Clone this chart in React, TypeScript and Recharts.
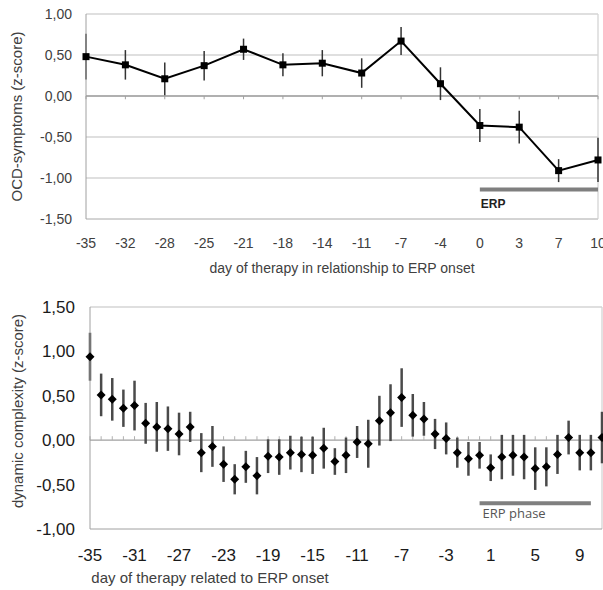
import React from 'react';
import { LineChart, Line, XAxis, YAxis, CartesianGrid, ReferenceLine, ErrorBar, Label } from 'recharts';

// upper panel: OCD symptoms
const symptomDays = [-35, -32, -28, -25, -21, -18, -14, -11, -7, -4, 0, 3, 7, 10];
const symptomMean = [0.48, 0.38, 0.21, 0.37, 0.57, 0.38, 0.4, 0.28, 0.67, 0.15, -0.36, -0.38, -0.91, -0.78];
const symptomErr = [0.28, 0.18, 0.2, 0.18, 0.13, 0.14, 0.16, 0.18, 0.17, 0.2, 0.2, 0.2, 0.14, 0.27];
const symptomTicks = [-1.5, -1, -0.5, 0, 0.5, 1];

// lower panel: dynamic complexity
const complexityDays = [
  -35, -34, -33, -32, -31, -30, -29, -28, -27, -26, -25, -24, -23, -22, -21, -20, -19, -18, -17, -16, -15, -14,
  -13, -12, -11, -10, -9, -8, -7, -6, -5, -4, -3, -2, -1, 0, 1, 2, 3, 4, 5, 6, 7, 8, 9, 10, 11,
];
const complexityMean = [
  0.94, 0.51, 0.46, 0.36, 0.39, 0.19, 0.15, 0.13, 0.07, 0.15, -0.14, -0.07, -0.27, -0.44, -0.3, -0.4, -0.18, -0.19,
  -0.14, -0.16, -0.17, -0.09, -0.24, -0.17, -0.02, -0.04, 0.22, 0.31, 0.48, 0.28, 0.24, 0.07, 0.02, -0.14, -0.21,
  -0.17, -0.31, -0.19, -0.17, -0.19, -0.32, -0.3, -0.16, 0.03, -0.14, -0.14, 0.03,
];
const complexityErr = [
  0.27, 0.24, 0.24, 0.21, 0.28, 0.23, 0.28, 0.25, 0.24, 0.17, 0.22, 0.23, 0.2, 0.17, 0.18, 0.21, 0.19, 0.2, 0.19,
  0.2, 0.21, 0.23, 0.15, 0.2, 0.18, 0.27, 0.28, 0.32, 0.33, 0.24, 0.19, 0.17, 0.18, 0.17, 0.19, 0.15, 0.15, 0.25,
  0.23, 0.25, 0.24, 0.22, 0.22, 0.19, 0.2, 0.2, 0.29,
];
const complexityTicks = [-1, -0.5, 0, 0.5, 1, 1.5];

const symptomData = symptomDays.map((day, i) => ({ day, value: symptomMean[i], err: symptomErr[i] }));
const complexityData = complexityDays.map((day, i) => ({ day, value: complexityMean[i], err: complexityErr[i] }));

const font = '"Liberation Sans", Arial, sans-serif';
const comma = (v: number) => v.toFixed(2).replace('.', ',');

const Square = (p: any) => <rect key={p.index} x={p.cx - 3.5} y={p.cy - 3.5} width={7} height={7} fill="#000" />;

const Diamond = (p: any) => (
  <polygon
    key={p.index}
    points={`${p.cx},${p.cy - 4.5} ${p.cx + 4.5},${p.cy} ${p.cx},${p.cy + 4.5} ${p.cx - 4.5},${p.cy}`}
    fill="#000"
  />
);

export default function App() {
  return (
    <div style={{ position: 'absolute', left: 0, top: 0, width: 603, height: 590, background: '#fff', fontFamily: font }}>
      <LineChart width={603} height={285} data={symptomData} margin={{ top: 14, right: 5, left: 16, bottom: 11 }}>
        <CartesianGrid vertical={false} stroke="#d4d4d4" strokeWidth={1.3} />
        <XAxis
          dataKey="day"
          type="category"
          interval={0}
          axisLine={{ stroke: '#c8c8c8' }}
          tickLine={false}
          tickMargin={13}
          height={55}
          tick={{ fill: '#404040', fontSize: 14, fontFamily: font }}
        >
          <Label
            value="day of therapy in relationship to ERP onset"
            position="insideBottom"
            offset={1}
            style={{ fill: '#404040', fontSize: 14, fontFamily: font }}
          />
        </XAxis>
        <YAxis
          domain={[-1.5, 1]}
          ticks={symptomTicks}
          tickFormatter={comma}
          width={70}
          axisLine={{ stroke: '#a0a0a0' }}
          tickLine={false}
          tickMargin={8}
          tick={{ fill: '#404040', fontSize: 14, fontFamily: font }}
        >
          <Label
            value="OCD-symptoms (z-score)"
            angle={-90}
            position="insideLeft"
            offset={1}
            style={{ fill: '#404040', fontSize: 15, fontFamily: font, textAnchor: 'middle' }}
          />
        </YAxis>
        <ReferenceLine x={10} stroke="#d4d4d4" strokeWidth={1.3} />
        <ReferenceLine y={0} stroke="#a0a0a0" strokeWidth={1.3} />
        {symptomDays.map((d) => (
          <ReferenceLine key={d} segment={[{ x: d, y: 0 }, { x: d, y: -0.04 }]} stroke="#a0a0a0" />
        ))}
        <ReferenceLine
          segment={[{ x: 0, y: -1.14 }, { x: 10, y: -1.14 }]}
          stroke="#7f7f7f"
          strokeWidth={4}
          label={{ value: 'ERP', position: 'insideTopLeft', offset: 10, dx: -9, fill: '#222', fontSize: 12, fontWeight: 'bold', fontFamily: font }}
        />
        <Line
          dataKey="value"
          stroke="#000"
          strokeWidth={2}
          dot={Square}
          activeDot={false}
          isAnimationActive={false}
        >
          <ErrorBar dataKey="err" width={0} stroke="#333" strokeWidth={1.5} />
        </Line>
      </LineChart>

      <LineChart width={603} height={305} data={complexityData} margin={{ top: 22, right: 1, left: 20, bottom: 11 }}>
        <XAxis
          dataKey="day"
          type="category"
          interval={3}
          axisLine={{ stroke: '#a0a0a0' }}
          tickLine={false}
          tickMargin={14}
          height={50}
          tick={{ fill: '#1a1a1a', fontSize: 17, fontFamily: font }}
        >
          <Label
            value="day of therapy related to ERP onset"
            position="insideBottom"
            offset={-4}
            dx={-136}
            style={{ fill: '#404040', fontSize: 15, fontFamily: font }}
          />
        </XAxis>
        <YAxis
          domain={[-1, 1.5]}
          ticks={complexityTicks}
          tickFormatter={comma}
          width={70}
          axisLine={{ stroke: '#a0a0a0' }}
          tickLine={false}
          tickMargin={9}
          tick={{ fill: '#1a1a1a', fontSize: 17, fontFamily: font }}
        >
          <Label
            value="dynamic complexity (z-score)"
            angle={-90}
            position="insideLeft"
            offset={-2}
            dy={-7}
            style={{ fill: '#404040', fontSize: 15, fontFamily: font, textAnchor: 'middle' }}
          />
        </YAxis>
        <ReferenceLine y={1.5} stroke="#d4d4d4" strokeWidth={1.3} />
        <ReferenceLine x={11} stroke="#d4d4d4" strokeWidth={1.3} />
        <ReferenceLine y={0} stroke="#a0a0a0" strokeWidth={1.3} />
        {complexityDays.map((d) => (
          <ReferenceLine key={d} segment={[{ x: d, y: 0 }, { x: d, y: 0.045 }]} stroke="#b0b0b0" />
        ))}
        <ReferenceLine
          segment={[{ x: 0, y: -0.71 }, { x: 10, y: -0.71 }]}
          stroke="#7f7f7f"
          strokeWidth={4}
          label={{ value: 'ERP phase', position: 'insideTopLeft', offset: 6, dx: -3, fill: '#555', fontSize: 13, fontFamily: '"Open Sans", sans-serif' }}
        />
        <Line
          dataKey="value"
          stroke="none"
          dot={Diamond}
          activeDot={false}
          isAnimationActive={false}
        >
          <ErrorBar dataKey="err" width={0} stroke="#4a4a4a" strokeWidth={2.5} />
        </Line>
      </LineChart>
    </div>
  );
}
